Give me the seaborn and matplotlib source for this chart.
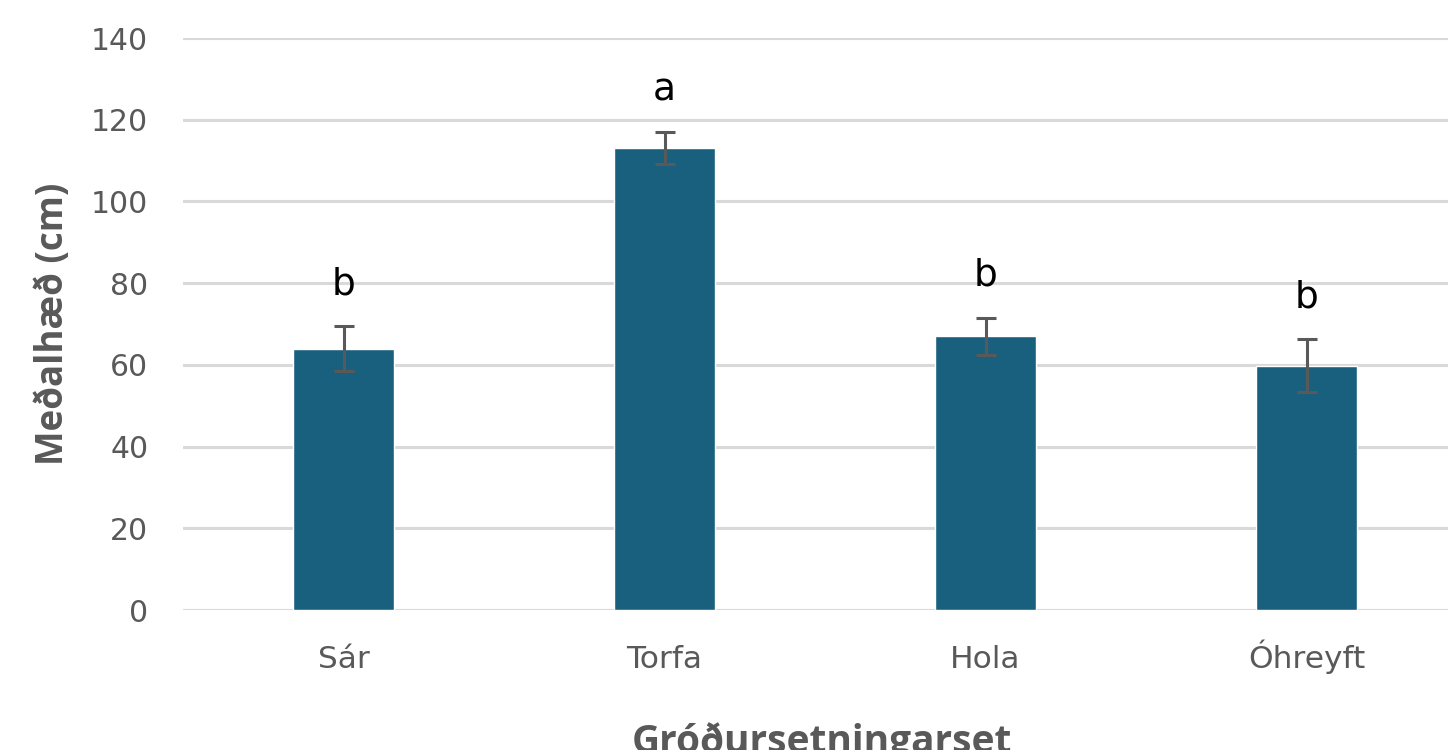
import matplotlib
matplotlib.use("Agg")
import matplotlib.pyplot as plt
import seaborn as sns
import pandas as pd

# Mean plant height per planting site, with standard error and significance letters
sites = ["Sár", "Torfa", "Hola", "Óhreyft"]
mean_height = [64.0, 113.0, 67.0, 59.8]
std_error = [5.4, 3.9, 4.5, 6.5]
letters = ["b", "a", "b", "b"]

y_ticks = [0, 20, 40, 60, 80, 100, 120, 140]

bar_color = "#19607f"
text_gray = "#595959"
grid_gray = "#d9d9d9"

sns.set_theme(style="white")
plt.rcParams["font.family"] = ["DejaVu Sans"]

df = pd.DataFrame({"site": sites, "height": mean_height})

fig = plt.figure(figsize=(14.48, 7.5), dpi=100)
W, H = 1448, 750
left_px, right_px = 183, 1467
bottom_px, top_px = 610, 38
ax = fig.add_axes([left_px / W, 1 - bottom_px / H,
                   (right_px - left_px) / W, (bottom_px - top_px) / H])

sns.barplot(data=df, x="site", y="height", order=sites, color=bar_color,
            saturation=1, width=0.315, errorbar=None, ax=ax, zorder=3)

positions = list(range(len(sites)))
ax.errorbar(positions, mean_height, yerr=std_error, fmt="none",
            ecolor=text_gray, elinewidth=2.2, capsize=7, capthick=2.2, zorder=4)

# significance letters sit a fixed distance above each error bar
for x, m, e, lab in zip(positions, mean_height, std_error, letters):
    ax.annotate(lab, xy=(x, m + e), xytext=(0, 23), textcoords="offset points",
                ha="center", va="baseline", fontsize=27, color="black")

ax.set_xlim(-0.5, len(sites) - 0.5)
ax.set_ylim(0, 140)
ax.set_yticks(y_ticks)
ax.yaxis.grid(True, color=grid_gray, linewidth=2.2, zorder=0)
ax.xaxis.grid(False)
ax.set_axisbelow(True)
for s in ax.spines.values():
    s.set_visible(False)

ax.tick_params(axis="y", length=0, pad=25, labelsize=21.5, labelcolor=text_gray)
ax.tick_params(axis="x", length=0, pad=41.5, labelsize=22.5, labelcolor=text_gray)
for lbl in ax.get_xticklabels():
    lbl.set_verticalalignment("baseline")

ax.set_xlabel("")
ax.set_ylabel("Meðalhæð (cm)", fontsize=26.5, fontweight="bold", color=text_gray,
              family="Open Sans")
ax.yaxis.set_label_coords(-0.0865, 0.5)
fig.text(822 / W, -0.004, "Gróðursetningarset",
         ha="center", va="baseline", fontsize=28, fontweight="bold",
         color=text_gray, family="Open Sans")

fig.savefig("out.png", dpi=100)
